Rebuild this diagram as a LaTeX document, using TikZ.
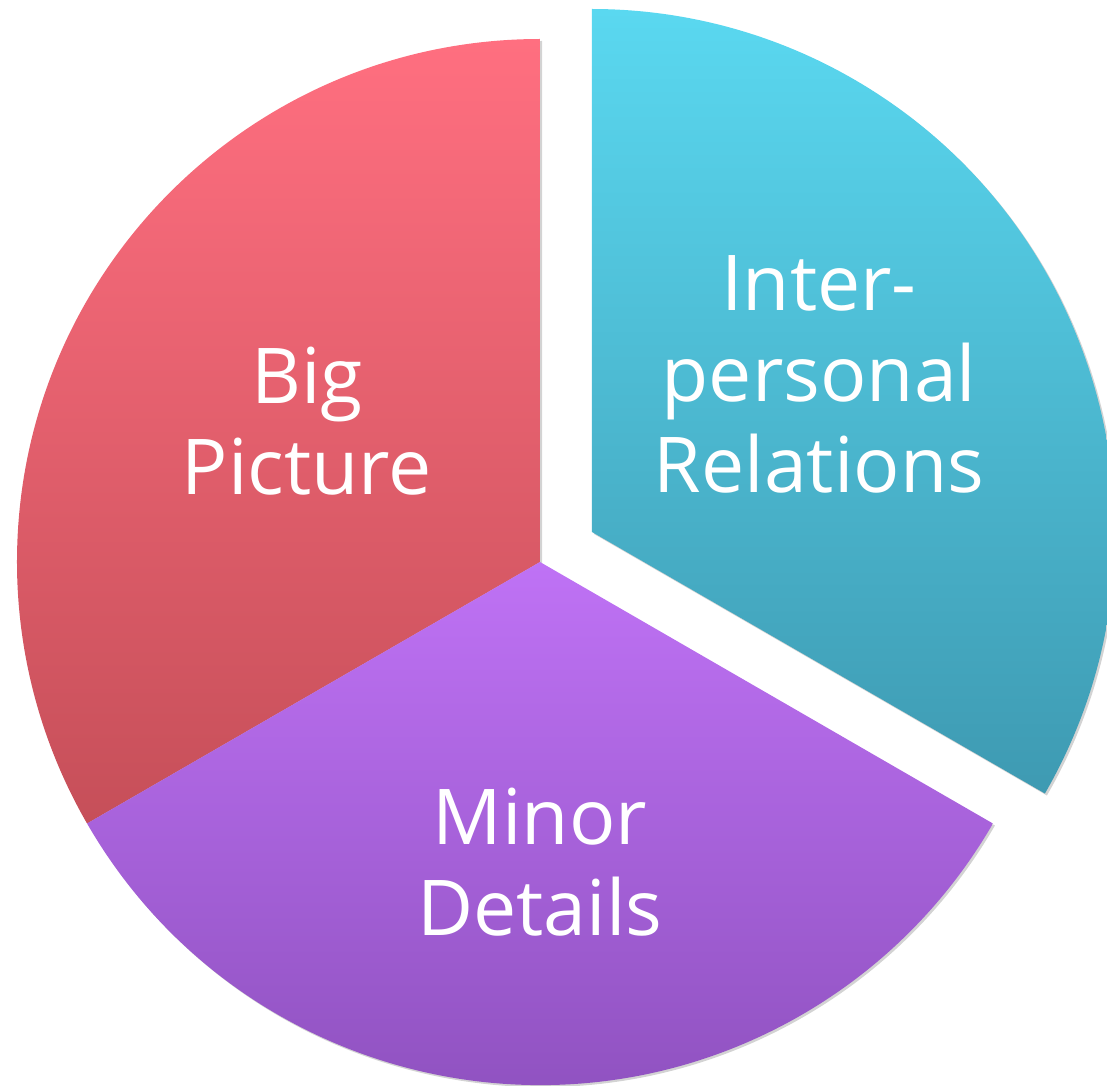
\documentclass[tikz,border=0pt]{standalone}
\usepackage{fontspec}
\setmainfont{Open Sans}
\usetikzlibrary{shadows}

\definecolor{bigtop}{HTML}{FF6F80}
\definecolor{bigbot}{HTML}{C64F59}
\definecolor{mintop}{HTML}{BF72F5}
\definecolor{minbot}{HTML}{8A4EBA}
\definecolor{reltop}{HTML}{5AD8F0}
\definecolor{relbot}{HTML}{3E9AB2}

\tikzset{
    slice/.style={drop shadow={opacity=0.35, shadow xshift=2pt, shadow yshift=-2pt}},
    label/.style={text=white, align=center, inner sep=0pt,
        font=\fontsize{77}{91}\selectfont}
}

\begin{document}
\begin{tikzpicture}[x=1pt, y=1pt]
    \useasboundingbox (-540, -523) rectangle (567, 562);

    % Big picture slice
    \shade[slice, top color=bigtop, bottom color=bigbot]
        (0, 0) -- (90:523) arc (90:210:523) -- cycle;

    % Minor details slice
    \shade[slice, top color=mintop, bottom color=minbot]
        (0, 0) -- (210:523) arc (210:330:523) -- cycle;

    % Interpersonal slice, pulled out along 30 degrees
    \shade[slice, top color=reltop, bottom color=relbot, shift={(30:60)}]
        (0, 0) -- (-30:523) arc (-30:90:523) -- cycle;

    % Labels
    \node[label] (big) at (-233, 141) {Big\\Picture};
    \node[label] (minor) at (0, -300) {Minor\\Details};
    \node[label] (rel) at (279, 188) {Inter-\\personal\\Relations};

\end{tikzpicture}
\end{document}
